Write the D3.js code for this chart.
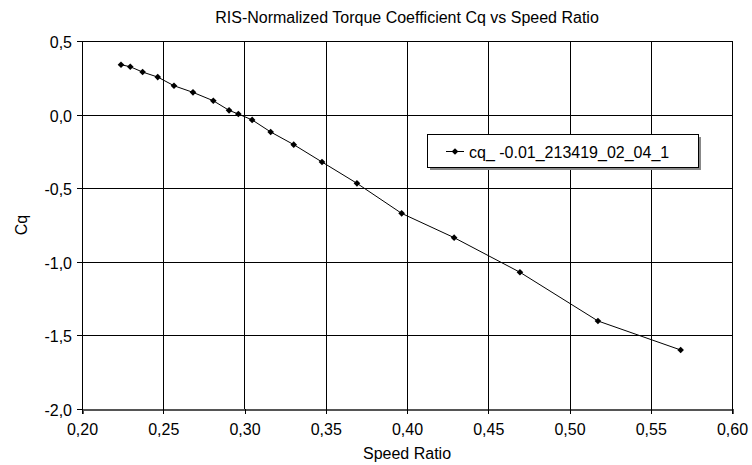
<!DOCTYPE html>
<html><head><meta charset="utf-8">
<script src="https://cdn.jsdelivr.net/npm/d3@7"></script>
<style>body{margin:0;background:#fff}svg{display:block}text{font-family:Arial,"Liberation Sans",sans-serif;fill:#000}</style>
</head><body>
<script>
const speedRatio = [0.224,0.2297,0.2373,0.2466,0.2566,0.2683,0.2808,0.2905,0.2962,0.3047,0.3161,0.3303,0.3477,0.3692,0.3967,0.429,0.4695,0.5175,0.5684];
const cq = [0.339,0.325,0.289,0.255,0.196,0.151,0.094,0.029,0.004,-0.036,-0.118,-0.204,-0.322,-0.467,-0.671,-0.836,-1.071,-1.402,-1.599];
const xTicks = [0.20,0.25,0.30,0.35,0.40,0.45,0.50,0.55,0.60];
const yTicks = [0.5,0.0,-0.5,-1.0,-1.5,-2.0];
const seriesName = "cq_ -0.01_213419_02_04_1";
const title = "RIS-Normalized Torque Coefficient Cq vs Speed Ratio";

const W=752,H=465, L=82,R=732,T=41,B=409;
const FS="16px";
const svg=d3.select("body").append("svg").attr("width",W).attr("height",H);
const x=d3.scaleLinear().domain([0.2,0.6]).range([L,R]);
const y=d3.scaleLinear().domain([-2,0.5]).range([B,T]);
const fmt=(d,n)=>d.toFixed(n).replace(".",",");

// gridlines
const g=svg.append("g").attr("shape-rendering","crispEdges");
g.selectAll(".vg").data(xTicks.slice(1)).join("line")
 .attr("x1",d=>Math.round(x(d))+0.5).attr("x2",d=>Math.round(x(d))+0.5).attr("y1",T).attr("y2",B)
 .attr("stroke","#000").attr("stroke-width",1);
g.selectAll(".hg").data(yTicks.slice(0,-1)).join("line")
 .attr("x1",L).attr("x2",R+0.5).attr("y1",d=>Math.round(y(d))+0.5).attr("y2",d=>Math.round(y(d))+0.5)
 .attr("stroke","#000").attr("stroke-width",1);

// axes
const xa=svg.append("g").attr("transform",`translate(0,${B})`)
 .call(d3.axisBottom(x).tickValues(xTicks).tickFormat(d=>fmt(d,2)).tickSize(5).tickPadding(10));
const ya=svg.append("g").attr("transform",`translate(${L},0)`)
 .call(d3.axisLeft(y).tickValues(yTicks).tickFormat(d=>fmt(d,1)).tickSize(5).tickPadding(5));
[xa,ya].forEach(a=>{a.selectAll("text").style("font-size",FS).style("font-family","Arial, 'Liberation Sans', sans-serif");
 a.selectAll("path,line").attr("stroke","#000").attr("shape-rendering","crispEdges");});
ya.selectAll("text").attr("dy","0.4em");
xa.select(".domain").attr("stroke","#555").attr("stroke-width",2);

// line + markers
const data=speedRatio.map((v,i)=>({x:v,y:cq[i]}));
svg.append("path").datum(data).attr("fill","none").attr("stroke","#000").attr("stroke-width",1)
 .attr("d",d3.line().x(d=>x(d.x)).y(d=>y(d.y)));
const diamond=d3.symbol().type(d3.symbolDiamond2).size(28);
svg.selectAll(".pt").data(data).join("path").attr("d",diamond)
 .attr("transform",d=>`translate(${x(d.x)},${y(d.y)})`).attr("fill","#000");

// titles
svg.append("text").attr("x",(L+R)/2).attr("y",23).attr("text-anchor","middle").style("font-size",FS).text(title);
svg.append("text").attr("x",(L+R)/2).attr("y",459).attr("text-anchor","middle").style("font-size",FS).text("Speed Ratio");
svg.append("text").attr("transform",`translate(27,${(T+B)/2}) rotate(-90)`).attr("text-anchor","middle").style("font-size",FS).text("Cq");

// legend
const lg=svg.append("g").attr("shape-rendering","crispEdges");
lg.append("rect").attr("x",429.5).attr("y",136.5).attr("width",271).attr("height",33).attr("fill","#888").attr("stroke","none");
lg.append("rect").attr("x",427.5).attr("y",134.5).attr("width",271).attr("height",33).attr("fill","#fff").attr("stroke","#000");
const ly=151.5;
svg.append("line").attr("x1",446).attr("x2",464).attr("y1",ly).attr("y2",ly).attr("stroke","#000");
svg.append("path").attr("d",diamond).attr("transform",`translate(455,${ly})`).attr("fill","#000");
svg.append("text").attr("x",469).attr("y",ly+6).style("font-size",FS).text(seriesName);
</script>
</body></html>
